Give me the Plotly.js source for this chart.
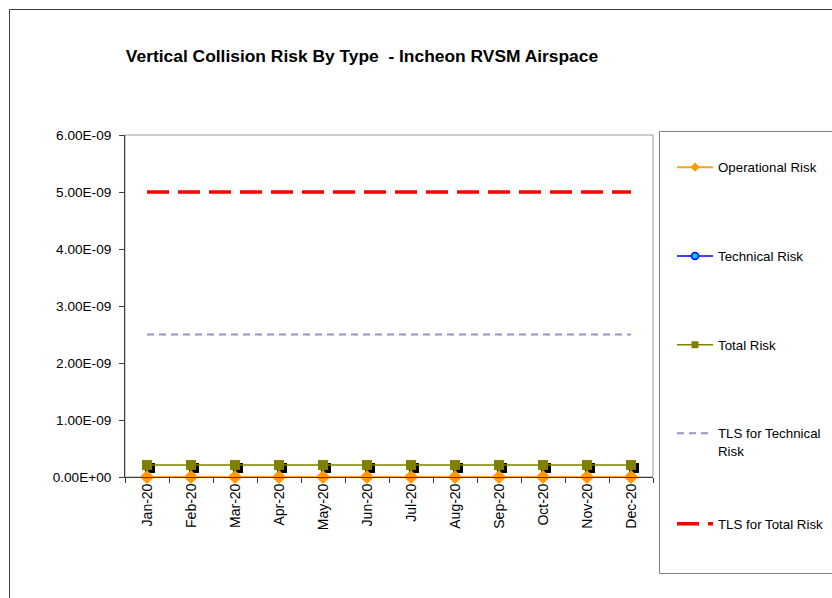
<!DOCTYPE html>
<html>
<head>
<meta charset="utf-8">
<script src="https://cdn.plot.ly/plotly-3.0.1.min.js"></script>
<style>html,body{margin:0;padding:0;background:#fff;}#chart{width:832px;height:598px;}</style>
</head>
<body>
<div id="chart"></div>
<script>
var months = ["Jan-20","Feb-20","Mar-20","Apr-20","May-20","Jun-20","Jul-20","Aug-20","Sep-20","Oct-20","Nov-20","Dec-20"];
var operationalRisk = [1e-12,1e-12,1e-12,1e-12,1e-12,1e-12,1e-12,1e-12,1e-12,1e-12,1e-12,1e-12];
var technicalRisk = [0,0,0,0,0,0,0,0,0,0,0,0];
var totalRisk = [2.1e-10,2.1e-10,2.1e-10,2.1e-10,2.1e-10,2.1e-10,2.1e-10,2.1e-10,2.1e-10,2.1e-10,2.1e-10,2.1e-10];
var tlsTechnical = [2.5e-9,2.5e-9,2.5e-9,2.5e-9,2.5e-9,2.5e-9,2.5e-9,2.5e-9,2.5e-9,2.5e-9,2.5e-9,2.5e-9];
var tlsTotal = [5e-9,5e-9,5e-9,5e-9,5e-9,5e-9,5e-9,5e-9,5e-9,5e-9,5e-9,5e-9];
var yTickVals = [0,1e-9,2e-9,3e-9,4e-9,5e-9,6e-9];
var yTickText = ["0.00E+00","1.00E-09","2.00E-09","3.00E-09","4.00E-09","5.00E-09","6.00E-09"];

var W = 832, H = 598;
var L = 125, R = 653, T = 135, B = 477;
var pw = R - L, ph = B - T;
function px(x){ return (x - L) / pw; }
function py(y){ return 1 - (y - T) / ph; }
var yMax = 6e-9;
var shX = 3 / (pw / 12);      // shadow shift in category units
var shY = 3 * yMax / ph;      // shadow shift in value units

var font = "Liberation Sans, Arial, sans-serif";

var traces = [
  // base subplot: TLS lines and technical risk
  {x: months, y: tlsTechnical, name:'TLS for Technical<br>Risk', mode:'lines', cliponaxis:false,
   line:{color:'#9595C5', width:2, dash:'7px,5px'}, legend:'legend2', legendgroup:'g4'},
  {x: months, y: tlsTotal, name:'TLS for Total Risk', mode:'lines', cliponaxis:false,
   line:{color:'#FF0000', width:3.5, dash:'22px,9px'}, legend:'legend2', legendgroup:'g5'},
  {x: months, y: technicalRisk, name:'Technical Risk', mode:'lines+markers', cliponaxis:false,
   line:{color:'#0000FF', width:1.5}, marker:{symbol:'circle', size:7, color:'#00CCFF', line:{color:'#0000FF', width:1.5}},
   legendgroup:'g2', legendrank:2},
  // shadows (x2/y2, shifted)
  {x: months, y: operationalRisk, xaxis:'x2', yaxis:'y2', mode:'markers', showlegend:false, cliponaxis:false,
   marker:{symbol:'diamond', size:11, color:'#000'}},
  {x: months, y: totalRisk, xaxis:'x2', yaxis:'y2', mode:'markers', showlegend:false, cliponaxis:false,
   marker:{symbol:'square', size:10, color:'#000'}},
  // real series (x3/y3)
  {x: months, y: totalRisk, name:'Total Risk', xaxis:'x3', yaxis:'y3', mode:'lines+markers', cliponaxis:false,
   line:{color:'#808000', width:1.5}, marker:{symbol:'square', size:7, color:'#808000'},
   legendgroup:'g3', legendrank:3},
  {x: months, y: totalRisk, xaxis:'x3', yaxis:'y3', mode:'markers', showlegend:false, cliponaxis:false,
   marker:{symbol:'square', size:10, color:'#808000'}},
  {x: months, y: operationalRisk, name:'Operational Risk', xaxis:'x3', yaxis:'y3', mode:'lines+markers', cliponaxis:false,
   line:{color:'#FFA31A', width:2}, marker:{symbol:'diamond', size:7, color:'#FF9900'},
   legendgroup:'g1', legendrank:1},
  {x: months, y: operationalRisk, xaxis:'x3', yaxis:'y3', mode:'markers', showlegend:false, cliponaxis:false,
   marker:{symbol:'diamond', size:11, color:'#FF9900'}}
];

var legendFont = {family: font, size: 13.3, color: '#000'};
var layout = {
  width: W, height: H,
  margin: {l: L, r: W - R, t: T, b: H - B, pad: 0, autoexpand: false},
  paper_bgcolor: '#fff', plot_bgcolor: 'rgba(0,0,0,0)',
  font: {family: font, size: 14, color: '#000'},
  title: {text: 'Vertical Collision Risk By Type  - Incheon RVSM Airspace', font: {family: font, size: 17.4, color: '#000', weight: 'bold'},
          x: 362 / W, xanchor: 'center', y: 1 - 56 / H, yanchor: 'middle'},
  showlegend: true,
  legend: {x: px(672), y: py(152), xanchor: 'left', yanchor: 'top', bgcolor: 'rgba(0,0,0,0)', borderwidth: 0,
           font: legendFont, tracegroupgap: 68.5, valign: 'top', traceorder: 'grouped', itemwidth: 36},
  legend2: {x: px(672), y: py(418), xanchor: 'left', yanchor: 'top', bgcolor: 'rgba(0,0,0,0)', borderwidth: 0,
           font: legendFont, tracegroupgap: 53, valign: 'top', traceorder: 'grouped', itemwidth: 36},
  xaxis: {type: 'category', categoryarray: months, range: [-0.5, 11.5], showgrid: false, zeroline: false, automargin: false,
          showline: true, linecolor: '#404040', linewidth: 1, ticks: 'outside', ticklen: 5, tickcolor: '#404040',
          tickson: 'boundaries', tickangle: -90, tickfont: {family: font, size: 14}, fixedrange: true},
  yaxis: {range: [0, yMax], tickvals: yTickVals, ticktext: yTickText, showgrid: false, zeroline: false, automargin: false,
          showline: true, linecolor: '#404040', linewidth: 1, ticks: 'outside', ticklen: 5, tickcolor: '#404040',
          ticklabelstandoff: 5, tickfont: {family: font, size: 13.6}, fixedrange: true},
  xaxis2: {type: 'category', categoryarray: months, overlaying: 'x', range: [-0.5 - shX, 11.5 - shX], visible: false, fixedrange: true},
  yaxis2: {overlaying: 'y', range: [shY, yMax + shY], visible: false, fixedrange: true},
  xaxis3: {type: 'category', categoryarray: months, overlaying: 'x', range: [-0.5, 11.5], visible: false, fixedrange: true},
  yaxis3: {overlaying: 'y', range: [0, yMax], visible: false, fixedrange: true},
  shapes: [
    {type: 'rect', xref: 'paper', yref: 'paper', x0: 0, x1: 1, y0: 0, y1: 1, line: {color: '#999', width: 1}, layer: 'below'},
    {type: 'rect', xref: 'paper', yref: 'paper', x0: px(659.5), x1: px(845), y0: py(573.5), y1: py(131.5), line: {color: '#808080', width: 1}, layer: 'below'},
    {type: 'line', xref: 'paper', yref: 'paper', x0: px(9.5), x1: px(9.5), y0: py(9.5), y1: py(600), line: {color: '#404040', width: 1}},
    {type: 'line', xref: 'paper', yref: 'paper', x0: px(9.5), x1: px(840), y0: py(9.5), y1: py(9.5), line: {color: '#404040', width: 1}}
  ]
};

Plotly.newPlot('chart', traces, layout, {displayModeBar: false, staticPlot: true});
</script>
</body>
</html>
